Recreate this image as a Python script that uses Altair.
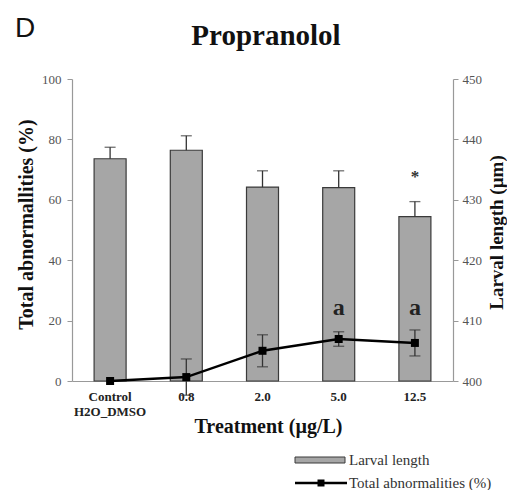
import altair as alt
import pandas as pd

# ---- data ----
treatments = ["Control|H2O_DMSO", "0.8", "2.0", "5.0", "12.5"]
larval_length = [436.8, 438.2, 432.1, 432.0, 427.2]      # right axis (µm)
larval_err = [1.9, 2.4, 2.7, 2.8, 2.5]
abnormal = [0.0, 1.3, 10.0, 13.9, 12.6]                  # left axis (%)
abnormal_err = [0.0, 6.0, 5.3, 2.4, 4.3]
abnormal_marks = ["", "", "", "a", "a"]
length_marks = ["", "", "", "", "*"]
abnormal_mark_level = 22.0    # % (left axis) where the "a" letters sit
length_mark_level = 433.0     # µm (right axis) where the "*" sits

df = pd.DataFrame({
    "treatment": treatments,
    "length": larval_length,
    "length_err": larval_err,
    "abnormal": abnormal,
    "abnormal_err": abnormal_err,
    "amark": abnormal_marks,
    "lmark": length_marks,
})
df["base"] = 400
df["len_hi"] = df["length"] + df["length_err"]
df["ab_lo"] = df["abnormal"] - df["abnormal_err"]
df["ab_hi"] = df["abnormal"] + df["abnormal_err"]
df["amark_y"] = abnormal_mark_level
df["lmark_y"] = length_mark_level

W, H = 381, 302
SERIF = "Liberation Serif"

lscale = alt.Scale(domain=[0, 100], nice=False)
rscale = alt.Scale(domain=[400, 450], nice=False, zero=False)

x_enc = alt.X(
    "treatment:N",
    sort=treatments,
    scale=alt.Scale(paddingInner=0.58, paddingOuter=0.29),
    axis=alt.Axis(
        title="Treatment (µg/L)",
        titleFont=SERIF, titleFontSize=20, titleFontWeight="bold", titleColor="#111",
        titleX=196, titleY=51, titleAlign="center", titleBaseline="alphabetic",
        labelExpr="split(datum.label, '|')",
        labelFont=SERIF, labelFontSize=13, labelFontWeight="bold", labelColor="#222",
        labelPadding=9, labelLineHeight=15, labelAngle=0,
        ticks=False, domainColor="#999", domainWidth=1.2,
    ),
)
x_plain = alt.X("treatment:N", sort=treatments)

base = alt.Chart(df)

bars = base.mark_bar(fill="#a6a6a6", stroke="#3a3a3a", strokeWidth=1.2).encode(
    x=x_enc,
    y=alt.Y("length:Q", scale=rscale, axis=alt.Axis(
        orient="right", values=[400, 410, 420, 430, 440, 450],
        title="Larval length (µm)",
        titleFont=SERIF, titleFontSize=19, titleFontWeight="bold", titleColor="#111",
        titleX=43, titleY=153, titleAngle=270, titleAlign="center", titleBaseline="middle",
        labelFont=SERIF, labelFontSize=13, labelColor="#555", labelPadding=4,
        tickSize=5, tickColor="#999", domainColor="#999", domainWidth=1.2, grid=False,
    )),
    y2="base",
)
bar_err = base.mark_rule(color="#333", strokeWidth=1.3).encode(
    x=x_plain, y=alt.Y("length:Q", scale=rscale, axis=None), y2="len_hi")
bar_cap = base.mark_tick(color="#333", thickness=1.3, size=11, orient="horizontal").encode(
    x=x_plain, y=alt.Y("len_hi:Q", scale=rscale, axis=None))

err_df = base.transform_filter("datum.abnormal_err > 0")
ab_err = err_df.mark_rule(color="#333", strokeWidth=1.3).encode(
    x=x_plain, y=alt.Y("ab_lo:Q", scale=lscale, axis=None), y2="ab_hi")
ab_cap_hi = err_df.mark_tick(color="#333", thickness=1.3, size=11, orient="horizontal").encode(
    x=x_plain, y=alt.Y("ab_hi:Q", scale=lscale, axis=None))
ab_cap_lo = err_df.mark_tick(color="#333", thickness=1.3, size=11, orient="horizontal").encode(
    x=x_plain, y=alt.Y("ab_lo:Q", scale=lscale, axis=None))

line = base.mark_line(color="black", strokeWidth=2.5).encode(
    x=x_plain,
    y=alt.Y("abnormal:Q", scale=lscale, axis=alt.Axis(
        orient="left", values=[0, 20, 40, 60, 80, 100],
        title="Total abnormallities (%)",
        titleFont=SERIF, titleFontSize=20, titleFontWeight="bold", titleColor="#111",
        titleX=-46, titleY=145, titleAngle=270, titleAlign="center", titleBaseline="middle",
        labelFont=SERIF, labelFontSize=13, labelColor="#555", labelPadding=6,
        tickSize=5, tickColor="#999", domainColor="#999", domainWidth=1.2, grid=False,
    )),
)
pts = base.mark_square(size=64, color="black", opacity=1).encode(
    x=x_plain, y=alt.Y("abnormal:Q", scale=lscale, axis=None))

a_text = base.transform_filter("datum.amark != ''").mark_text(
    font=SERIF, fontSize=24, fontWeight="bold", color="#222", baseline="alphabetic"
).encode(x=x_plain, y=alt.Y("amark_y:Q", scale=lscale, axis=None), text="amark:N")
star_text = base.transform_filter("datum.lmark != ''").mark_text(
    font=SERIF, fontSize=17, fontWeight="bold", color="#333", baseline="alphabetic"
).encode(x=x_plain, y=alt.Y("lmark_y:Q", scale=rscale, axis=None), text="lmark:N")

one = alt.Chart(pd.DataFrame({"k": [0]}))
panel_letter = one.mark_text(text="D", font="Liberation Sans", fontSize=28,
                             align="left", baseline="alphabetic", color="#111").encode(
    x=alt.value(-57), y=alt.value(-42))
title = one.mark_text(text="Propranolol", font=SERIF, fontSize=29, fontWeight="bold",
                      align="center", baseline="alphabetic", color="#111").encode(
    x=alt.value(194), y=alt.value(-34))

leg_rect = one.mark_rect(fill="#a6a6a6", stroke="#3a3a3a", strokeWidth=1).encode(
    x=alt.value(223), x2=alt.value(273), y=alt.value(378), y2=alt.value(384))
leg_text1 = one.mark_text(text="Larval length", font=SERIF, fontSize=15, align="left",
                          baseline="middle", color="#333").encode(
    x=alt.value(277), y=alt.value(381))
leg_line = one.mark_rule(color="black", strokeWidth=2.5).encode(
    x=alt.value(223), x2=alt.value(275), y=alt.value(404))
leg_sq = one.mark_square(size=49, color="black", opacity=1).encode(
    x=alt.value(249), y=alt.value(404))
leg_text2 = one.mark_text(text="Total abnormalities (%)", font=SERIF, fontSize=15,
                          align="left", baseline="middle", color="#333").encode(
    x=alt.value(277), y=alt.value(404))

chart = alt.layer(
    bars, bar_err, bar_cap, ab_err, ab_cap_hi, ab_cap_lo, line, pts,
    a_text, star_text, panel_letter, title,
    leg_rect, leg_text1, leg_line, leg_sq, leg_text2,
).resolve_scale(y="independent").properties(
    width=W, height=H,
    autosize=alt.AutoSizeParams(type="none"),
    padding={"left": 64, "top": 71, "right": 54, "bottom": 109},
    background="white",
).configure_view(stroke=None)

chart.save("out.html", embed_options={"renderer": "svg", "actions": False})
